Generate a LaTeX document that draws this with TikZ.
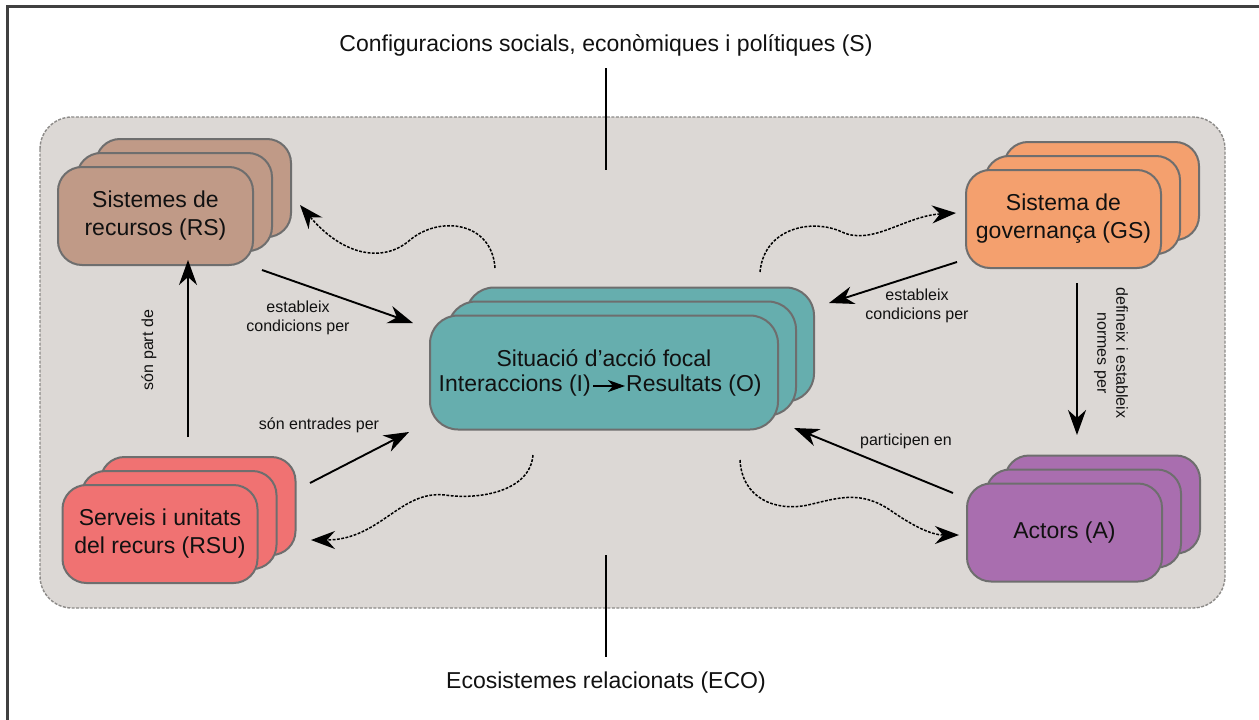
\documentclass[tikz,border=0pt]{standalone}
\usepackage{fontspec}
\setmainfont{Liberation Sans}
\usetikzlibrary{arrows.meta}
\definecolor{bgfill}{HTML}{DCD8D5}
\definecolor{bgline}{HTML}{8C8A88}
\definecolor{boxline}{HTML}{6E6E6E}
\definecolor{rsfill}{HTML}{C09A87}
\definecolor{gsfill}{HTML}{F4A06E}
\definecolor{asfill}{HTML}{66AEAE}
\definecolor{rufill}{HTML}{F07272}
\definecolor{acfill}{HTML}{A96EAF}
\definecolor{framec}{HTML}{404040}
\definecolor{txt}{HTML}{111111}
\begin{document}
\begin{tikzpicture}[x=1pt,y=-1pt,
  big/.style={font=\fontsize{23}{28}\selectfont, text=txt},
  lab/.style={font=\fontsize{16}{19}\selectfont, text=txt, align=center, inner sep=0pt},
  layer/.style={draw=boxline, line width=2pt, rounded corners=24pt, fill=#1,
    minimum width=195pt, minimum height=98pt, inner sep=0pt, align=center,
    font=\fontsize{23}{28}\selectfont, text=txt},
  clayer/.style={layer=asfill, minimum width=348pt, minimum height=114pt, rounded corners=28pt},
  arr/.style={-{Stealth[length=25pt,width=18pt,inset=8pt]}, line width=1.9pt, black},
  darr/.style={-{Stealth[length=24pt,width=18pt,inset=8pt]}, line width=1.5pt, black,
    dash pattern=on 2.8pt off 1.5pt},
  plain/.style={line width=1.3pt, black}]
\useasboundingbox (0,0) rectangle (1259,720);
% frame (top and left edges)
\draw[framec, line width=3pt] (1259,6) -- (7,6) -- (7,720);
% background system box
\draw[fill=bgfill, draw=bgline, line width=1.4pt, dash pattern=on 3pt off 1.5pt,
  rounded corners=32pt] (40,117) rectangle (1225,608);
% outer labels
\node[big] (S) at (606,45) {Configuracions socials, econòmiques i polítiques (S)};
\node[big] (ECO) at (606,683) {Ecosistemes relacionats (ECO)};
\coordinate (st) at (606,68);
\coordinate (sb) at (606,170);
\coordinate (et) at (606,555);
\coordinate (eb) at (606,657);
\draw[plain] (st) -- (sb);
\draw[plain] (et) -- (eb);
% Resource systems
\node[layer=rsfill] (rs3) at (193.5,188) {};
\node[layer=rsfill] (rs2) at (174.5,202) {};
\node[layer=rsfill] (rs) at (155.5,216) {Sistemes de\\recursos (RS)};
% Governance system
\node[layer=gsfill] (gs3) at (1101.5,191) {};
\node[layer=gsfill] (gs2) at (1082.5,205) {};
\node[layer=gsfill] (gs) at (1063.5,219) {Sistema de\\governança (GS)};
% Resource units
\node[layer=rufill] (ru3) at (198,506) {};
\node[layer=rufill] (ru2) at (179,520) {};
\node[layer=rufill] (ru) at (160,534) {Serveis i unitats\\del recurs (RSU)};
% Actors
\node[layer=acfill] (ac3) at (1102.5,504.5) {};
\node[layer=acfill] (ac2) at (1083.5,518.5) {};
\node[layer=acfill] (ac) at (1064.5,532.5) {Actors (A)};
% Focal action situation
\node[clayer] (as3) at (640,344.5) {};
\node[clayer] (as2) at (622,358.5) {};
\node[clayer] (as) at (604,372.5) {};
\node[big, inner sep=0pt] (as1) at (604,358) {Situació d’acció focal};
\node[big, inner sep=0pt, anchor=east] (asi) at (591,386) {Interaccions (I)};
\node[big, inner sep=0pt, anchor=west] (aso) at (626,386) {Resultats (O)};
\draw[-{Stealth[length=17pt,width=12pt,inset=5pt]}, line width=1.3pt] ([xshift=2pt]asi.east) -- ([xshift=-1pt]aso.west);
% solid arrows
\coordinate (a1s) at (262,270); \coordinate (a1e) at (413,323);
\draw[arr] (a1s) -- (a1e);
\node[lab] (l1) at (298,318) {estableix\\condicions per};
\coordinate (a2s) at (310,483); \coordinate (a2e) at (409,432);
\draw[arr] (a2s) -- (a2e);
\node[lab] (l2) at (319,425) {són entrades per};
\coordinate (a3s) at (188,437); \coordinate (a3e) at (188,260);
\draw[arr] (a3s) -- (a3e);
\node[lab, rotate=90] (l3) at (149,350) {són part de};
\coordinate (a4s) at (957,262); \coordinate (a4e) at (829,303);
\draw[arr] (a4s) -- (a4e);
\node[lab] (l4) at (917,306) {estableix\\condicions per};
\coordinate (a5s) at (1077,283); \coordinate (a5e) at (1077,435);
\draw[arr] (a5s) -- (a5e);
\node[lab, rotate=-90] (l5) at (1111,353) {defineix i estableix\\normes per};
\coordinate (a6s) at (953,493); \coordinate (a6e) at (794,428);
\draw[arr] (a6s) -- (a6e);
\node[lab] (l6) at (906,441) {participen en};
% dashed feedback arrows
\coordinate (d1s) at (495,268); \coordinate (d1e) at (300,205);
\draw[darr] (d1s) .. controls (492,222) and (440,215) .. (410,240)
  .. controls (385,262) and (345,258) .. (d1e);
\coordinate (d2s) at (760,272); \coordinate (d2e) at (956,213);
\draw[darr] (d2s) .. controls (764,228) and (812,218) .. (842,232)
  .. controls (872,246) and (905,216) .. (d2e);
\coordinate (d3s) at (533,455); \coordinate (d3e) at (311,540);
\draw[darr] (d3s) .. controls (530,492) and (478,500) .. (445,495)
  .. controls (400,490) and (380,540) .. (d3e);
\coordinate (d4s) at (740,460); \coordinate (d4e) at (959,535);
\draw[darr] (d4s) .. controls (742,498) and (775,512) .. (808,505)
  .. controls (838,498) and (860,490) .. (890,510)
  .. controls (910,524) and (930,535) .. (d4e);
\end{tikzpicture}
\end{document}
